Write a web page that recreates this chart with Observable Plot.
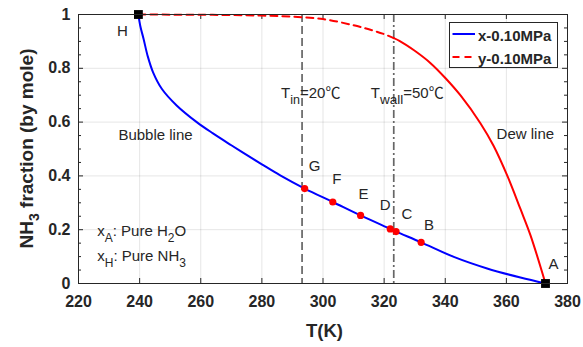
<!DOCTYPE html>
<html>
<head>
<meta charset="utf-8">
<script src="https://cdn.jsdelivr.net/npm/d3@7"></script>
<script src="https://cdn.jsdelivr.net/npm/@observablehq/plot@0.6"></script>
<style>
  body { margin: 0; background: #fff; }
  #chart { width: 583px; height: 347px; }
</style>
</head>
<body>
<div id="chart"></div>
<script>
// NH3–H2O phase diagram at 0.10 MPa: bubble line (liquid) and dew line (vapour)

// Bubble line, liquid NH3 mole fraction x vs temperature
const bubbleT = [239.6, 240.2, 241.3, 242.6, 244.4, 247.3, 252.2, 258.8, 264.0, 270.0, 275.0, 280.0, 286.0,
                 294.0, 303.2, 312.3, 322.0, 323.9, 332.1, 342.8, 353.7, 364.6, 372.8];
const bubbleX = [1.000, 0.958, 0.909, 0.847, 0.785, 0.723, 0.661, 0.599, 0.558, 0.514, 0.478, 0.443, 0.402,
                 0.353, 0.303, 0.253, 0.203, 0.193, 0.153, 0.099, 0.056, 0.022, 0.000];

// Dew line, vapour NH3 mole fraction y vs temperature
const dewT = [239.6, 250, 260, 270, 280, 290, 300, 310, 315, 320, 323.15, 325.0, 329.9, 335.2, 340.1, 345.0,
              351.5, 355.8, 360.4, 364.6, 367.9, 372.8];
const dewY = [1.000, 0.9995, 0.999, 0.998, 0.996, 0.992, 0.983, 0.960, 0.945, 0.927, 0.912, 0.902, 0.866, 0.819, 0.763, 0.699,
              0.596, 0.512, 0.398, 0.277, 0.179, 0.000];

// State points on the bubble line
const stateNames = ["G", "F", "E", "D", "C", "B"];
const stateT = [294.0, 303.2, 312.3, 322.0, 323.9, 332.1];
const stateX = [0.353, 0.303, 0.253, 0.203, 0.193, 0.153];

// Pure components: H = pure NH3, A = pure H2O
const pureNames = ["H", "A"];
const pureT = [239.6, 372.8];
const pureX = [1, 0];

// Reference temperatures (K)
const Tin = 293.15;   // 20 °C
const Twall = 323.15; // 50 °C

// Axis ticks
const xTicks = [220, 240, 260, 280, 300, 320, 340, 360, 380];
const yTicks = [0, 0.2, 0.4, 0.6, 0.8, 1];
const yMinor = [0.05, 0.1, 0.15, 0.25, 0.3, 0.35, 0.45, 0.5, 0.55, 0.65, 0.7, 0.75, 0.85, 0.9, 0.95];

const bubble = bubbleT.map((T, i) => ({T, v: bubbleX[i]}));
const dew = dewT.map((T, i) => ({T, v: dewY[i]}));
const states = stateNames.map((name, i) => ({name, T: stateT[i], v: stateX[i]}));
const pures = pureNames.map((name, i) => ({name, T: pureT[i], v: pureX[i]}));

const ink = "#262626";
const font = "'Liberation Sans', Arial, Helvetica, sans-serif";

// frame geometry
const W = 583, H = 347, mL = 78, mR = 16, mT = 14, mB = 64;
const frameW = W - mL - mR, frameH = H - mT - mB;
const major = 5, minor = 3;

// label placement around each point (dx, dy in px)
const labelShift = {H: [-16, 17], G: [10, -22], F: [4, -23], E: [3, -21], D: [-5, -24], C: [11, -17], B: [8, -17], A: [8, -19]};

const labelMarks = [...pures, ...states].map(p =>
  Plot.text([p], {x: "T", y: "v", text: "name", dx: labelShift[p.name][0], dy: labelShift[p.name][1],
                  fontSize: 15, fill: ink})
);

const plot = Plot.plot({
  width: W,
  height: H,
  marginLeft: mL,
  marginRight: mR,
  marginTop: mT,
  marginBottom: mB,
  x: {domain: [220, 380]},
  y: {domain: [0, 1]},
  style: {fontFamily: font, color: ink, background: "#fff"},
  marks: [
    Plot.gridX(xTicks, {stroke: "#000", strokeOpacity: 0.1}),
    Plot.gridY(yTicks, {stroke: "#000", strokeOpacity: 0.1}),

    // tick labels
    Plot.axisX({ticks: xTicks, tickSize: 0, tickPadding: 12, fontSize: 16, fontWeight: "bold", label: null, tickFormat: d => String(d)}),
    Plot.axisY({ticks: yTicks, tickSize: 0, tickPadding: 8, fontSize: 16, fontWeight: "bold", label: null, tickFormat: d => String(d)}),

    // inward ticks on all four sides
    Plot.tickX(xTicks, {x: d => d, stroke: ink, insetTop: frameH - major}),
    Plot.tickX(xTicks, {x: d => d, stroke: ink, insetBottom: frameH - major}),
    Plot.tickY(yTicks, {y: d => d, stroke: ink, insetRight: frameW - major}),
    Plot.tickY(yMinor, {y: d => d, stroke: ink, insetRight: frameW - minor}),
    Plot.tickY(yTicks, {y: d => d, stroke: ink, insetLeft: frameW - major}),
    Plot.tickY(yMinor, {y: d => d, stroke: ink, insetLeft: frameW - minor}),

    // inlet and wall temperatures
    Plot.ruleX([Tin], {stroke: "#666", strokeWidth: 1.7, strokeDasharray: "8,4"}),
    Plot.ruleX([Twall], {stroke: "#666", strokeWidth: 1.7, strokeDasharray: "8,3,2,3"}),

    // dew line: dashed on the flat part, solid on the steep part
    Plot.line(dew.filter(d => d.T <= Twall), {x: "T", y: "v", stroke: "#ff0000", strokeWidth: 2, strokeDasharray: "7,5", curve: "catmull-rom"}),
    Plot.line(dew.filter(d => d.T >= Twall), {x: "T", y: "v", stroke: "#ff0000", strokeWidth: 2, curve: "catmull-rom"}),

    // bubble line
    Plot.line(bubble, {x: "T", y: "v", stroke: "#0000ff", strokeWidth: 2, curve: "catmull-rom"}),

    Plot.dot(states, {x: "T", y: "v", r: 3.6, fill: "#ff0000"}),
    Plot.dot(pures, {x: "T", y: "v", symbol: "square", r: 5, fill: "#000"}),

    ...labelMarks,

    Plot.text(["Bubble line"], {x: 245.2, y: 0.55, fontSize: 15, fill: ink}),
    Plot.text(["Dew line"], {x: 366.2, y: 0.556, fontSize: 15, fill: ink}),

    Plot.frame({stroke: ink})
  ]
});

document.getElementById("chart").appendChild(plot);

// Rich text (subscripts) added on top of the plot, placed with the plot's scales
const sx = plot.scale("x"), sy = plot.scale("y");
const svg = d3.select(plot);
const X = v => sx.apply(v), Y = v => sy.apply(v);

function rich(x, y, parts, attrs = {}) {
  const t = svg.append("text").attr("x", x).attr("y", y).attr("text-anchor", "start")
    .attr("fill", ink).attr("font-family", font).attr("font-size", 15);
  for (const [k, val] of Object.entries(attrs)) t.attr(k, val);
  let shift = 0;
  for (const p of parts) {
    const s = t.append("tspan").text(p.text);
    const target = p.sub || 0;
    if (target !== shift) { s.attr("dy", target - shift); shift = target; }
    if (p.size) s.attr("font-size", p.size);
    if (p.family) s.attr("font-family", p.family);
  }
  return t;
}

const celsius = "'Noto Sans CJK SC', 'DejaVu Sans', sans-serif";

// temperature annotations
rich(X(Tin) - 20.5, Y(0.686), [
  {text: "T"}, {text: "in", sub: 6, size: 12.5}, {text: "=20"}, {text: "℃", family: celsius}
]);
rich(X(Twall) - 22.5, Y(0.686), [
  {text: "T"}, {text: "wall", sub: 6, size: 13.5}, {text: "=50"}, {text: "℃", family: celsius}
]);

// pure-component notes
rich(X(226.3), Y(0.175), [
  {text: "x"}, {text: "A", sub: 6.5, size: 12}, {text: ": Pure H"}, {text: "2", sub: 6.5, size: 12}, {text: "O"}
]);
rich(X(226.3), Y(0.083), [
  {text: "x"}, {text: "H", sub: 6.5, size: 12}, {text: ": Pure NH"}, {text: "3", sub: 6.5, size: 12}
]);

// axis titles
const [x0, x1] = sx.range, [y0, y1] = sy.range;
svg.append("text").attr("x", (x0 + x1) / 2 + 2).attr("y", y0 + 54)
  .attr("text-anchor", "middle").attr("font-family", font).attr("font-size", 18.5)
  .attr("font-weight", "bold").attr("fill", ink).text("T(K)");

rich(0, 0, [
  {text: "NH"}, {text: "3", sub: 6, size: 14}, {text: " fraction (by mole)"}
], {"text-anchor": "middle", "font-size": 19, "font-weight": "bold",
    transform: `translate(${x0 - 45},${(y0 + y1) / 2}) rotate(-90)`});

// legend box in the upper-right corner of the frame
const lgRight = x1 - 9.5, lgTop = y1 + 8.5, lgW = 108, lgH = 45;
const lg = svg.append("g").attr("text-anchor", "start");
lg.append("rect").attr("x", lgRight - lgW).attr("y", lgTop).attr("width", lgW).attr("height", lgH)
  .attr("fill", "#fff").attr("stroke", ink).attr("stroke-width", 1);
const legendItems = [
  {label: "x-0.10MPa", color: "#0000ff", dash: null},
  {label: "y-0.10MPa", color: "#ff0000", dash: "7,5"}
];
legendItems.forEach((it, i) => {
  const cy = lgTop + 11.5 + i * 23;
  const l = lg.append("line").attr("x1", lgRight - lgW + 3).attr("x2", lgRight - lgW + 25.5)
    .attr("y1", cy).attr("y2", cy).attr("stroke", it.color).attr("stroke-width", 2);
  if (it.dash) l.attr("stroke-dasharray", it.dash);
  lg.append("text").attr("x", lgRight - lgW + 28.5).attr("y", cy + 6.5)
    .attr("font-family", font).attr("font-size", 15).attr("font-weight", "bold").attr("fill", ink)
    .text(it.label);
});
</script>
</body>
</html>
